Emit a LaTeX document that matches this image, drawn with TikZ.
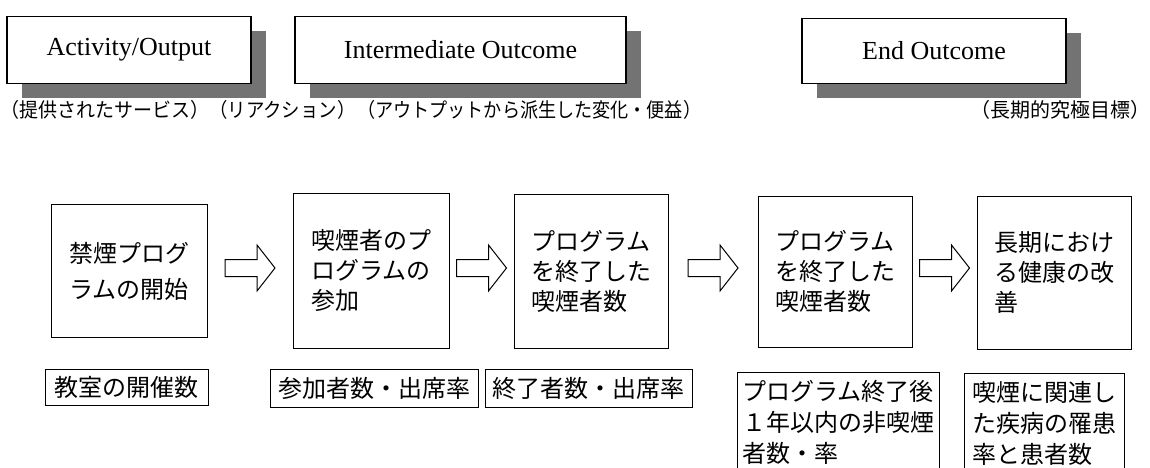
\documentclass[tikz,border=0pt]{standalone}
\usepackage{fontspec}
\setmainfont{Liberation Serif}
\newfontfamily\jp{Noto Sans CJK JP}
\usetikzlibrary{calc,shadows}
\newcommand\blockarrow[2]{%
  \path ($(#1.east)!0.5!(#2.west)$) coordinate (m);
  \draw[blockarrow] ($(m |- 0,259.5)+(-25,0)$) -- ($(m |- 0,259.5)+(7,0)$)
    -- ($(m |- 0,245)+(7,0)$) -- ($(m |- 0,268)+(25,0)$)
    -- ($(m |- 0,291)+(7,0)$) -- ($(m |- 0,276.5)+(7,0)$)
    -- ($(m |- 0,276.5)+(-25,0)$) -- cycle;}
\begin{document}
\begin{tikzpicture}[x=1pt,y=-1pt,
  hdr/.style={draw, line width=1.1pt, fill=white, inner sep=0pt,
    font=\fontsize{26}{30}\selectfont,
    drop shadow={shadow xshift=15pt, shadow yshift=-15pt, fill=black!55, opacity=1}},
  sub/.style={anchor=west, inner sep=0pt, font=\jp\fontsize{20}{24}\selectfont},
  stage/.style={draw, line width=1pt, align=left, inner sep=0pt,
    font=\jp\fontsize{24}{30}\selectfont},
  metric/.style={draw, line width=1pt, align=left, inner sep=4pt,
    font=\jp\fontsize{24}{31}\selectfont},
  blockarrow/.style={draw, line width=1pt, fill=white}
]
\useasboundingbox (0,0) rectangle (1150,468);
% header boxes
\node[hdr, minimum width=244pt, minimum height=67pt] (h1) at (129,50) {Activity/Output};
\node[hdr, minimum width=331pt, minimum height=67pt] (h2) at (460.5,50) {Intermediate Outcome};
\node[hdr, minimum width=264pt, minimum height=65pt] (h3) at (934,51) {End Outcome};
% subtitles
\node[sub] (t1) at (0,110) {\scalebox{0.95}[1]{（提供されたサービス）}};
\node[sub] (t2) at (209,110) {\scalebox{0.92}[1]{（リアクション）}};
\node[sub] (t3) at (357,110) {\scalebox{0.905}[1]{（アウトプットから派生した変化・便益）}};
\node[sub] (t4) at (970,110) {（長期的究極目標）};
% stages
\node[stage, minimum width=156pt, minimum height=133pt, font=\jp\fontsize{24}{36}\selectfont] (s1) at (129,271) {禁煙プログ\\ラムの開始};
\node[stage, minimum width=156pt, minimum height=155pt] (s2) at (371,270.5) {喫煙者のプ\\ログラムの\\参加};
\node[stage, minimum width=154pt, minimum height=154pt] (s3) at (591,271) {プログラム\\を終了した\\喫煙者数};
\node[stage, minimum width=154pt, minimum height=151pt] (s4) at (835,271.5) {プログラム\\を終了した\\喫煙者数};
\node[stage, minimum width=154pt, minimum height=153pt] (s5) at (1054,272.5) {長期におけ\\る健康の改\\善};
% block arrows
\blockarrow{s1}{s2}
\blockarrow{s2}{s3}
\blockarrow{s3}{s4}
\blockarrow{s4}{s5}
% metrics
\node[metric, minimum width=163pt, minimum height=36pt] (m1) at (126.5,387) {教室の開催数};
\node[metric, minimum width=208pt, minimum height=38pt] (m2) at (374,388) {参加者数・出席率};
\node[metric, minimum width=207pt, minimum height=38pt] (m3) at (588.5,388) {終了者数・出席率};
\node[metric, anchor=north west, text depth=20pt, inner xsep=5pt, inner ysep=8pt] (m4) at (737,372) {プログラム終了後\\１年以内の非喫煙\\者数・率};
\node[metric, anchor=north west, text depth=20pt, inner xsep=8pt, inner ysep=8pt] (m5) at (964,373) {喫煙に関連し\\た疾病の罹患\\率と患者数};
\end{tikzpicture}
\end{document}
